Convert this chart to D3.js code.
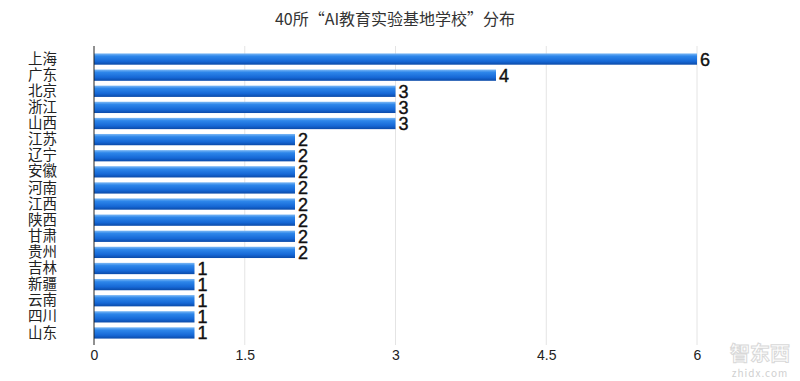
<!DOCTYPE html>
<html>
<head>
<meta charset="utf-8">
<title>40所AI教育实验基地学校分布</title>
<style>
  body { margin: 0; background: #fff; }
  svg { display: block; font-family: "Noto Sans CJK SC", "Liberation Sans", sans-serif; }
</style>
<script src="https://cdn.jsdelivr.net/npm/d3@7"></script>
</head>
<body>
<svg id="chart" width="800" height="381"></svg>
<script>
var provinces = ['上海', '广东', '北京', '浙江', '山西', '江苏', '辽宁', '安徽', '河南', '江西', '陕西', '甘肃', '贵州', '吉林', '新疆', '云南', '四川', '山东'];
var schools = [6, 4, 3, 3, 3, 2, 2, 2, 2, 2, 2, 2, 2, 1, 1, 1, 1, 1];
var xTicks = [0, 1.5, 3, 4.5, 6];

var svg = d3.select('#chart');
// plot area (don't name these top/left: window.top is read-only)
var plotL = 94, plotR = 697, plotT = 51, plotB = 341;

var x = d3.scaleLinear().domain([0, 6]).range([plotL, plotR]);
var y = d3.scaleBand().domain(provinces).range([plotT, plotB]).paddingInner(0.3).paddingOuter(0.15);

// bar gradient: light top edge, dark bottom
var grad = svg.append('defs').append('linearGradient')
  .attr('id', 'barGrad').attr('x1', 0).attr('y1', 0).attr('x2', 0).attr('y2', 1);
grad.append('stop').attr('offset', '0%').attr('stop-color', '#7db9f5');
grad.append('stop').attr('offset', '25%').attr('stop-color', '#2d86ea');
grad.append('stop').attr('offset', '70%').attr('stop-color', '#1668d6');
grad.append('stop').attr('offset', '100%').attr('stop-color', '#0b4aa8');

// title
svg.append('text').attr('x', 395).attr('y', 25).attr('text-anchor', 'middle')
  .attr('font-size', 16).attr('fill', '#333').text('40所“AI教育实验基地学校”分布');

// grid lines
svg.append('g').selectAll('line').data(xTicks.slice(1)).enter().append('line')
  .attr('x1', function(d){ return x(d); }).attr('x2', function(d){ return x(d); })
  .attr('y1', 46).attr('y2', 345)
  .attr('stroke', '#e4e4e4').attr('stroke-width', 1);

// x axis labels
var xAxis = d3.axisBottom(x).tickValues(xTicks).tickSize(0).tickPadding(0)
  .tickFormat(function(d){ return String(d); });
var gx = svg.append('g').attr('transform', 'translate(0,348)').call(xAxis);
gx.select('.domain').remove();
gx.selectAll('text').attr('font-size', 14).attr('fill', '#222').attr('dy', '0.85em')
  .attr('font-family', '"Liberation Sans Narrow", "Liberation Sans", sans-serif');

// bars
svg.append('g').selectAll('rect').data(provinces).enter().append('rect')
  .attr('x', x(0))
  .attr('y', function(d){ return y(d); })
  .attr('width', function(d, i){ return x(schools[i]) - x(0); })
  .attr('height', y.bandwidth())
  .attr('fill', 'url(#barGrad)');

// value labels
svg.append('g').selectAll('text').data(provinces).enter().append('text')
  .attr('x', function(d, i){ return x(schools[i]) + 3; })
  .attr('y', function(d){ return y(d) + y.bandwidth() / 2; })
  .attr('dy', '0.36em')
  .attr('font-size', 18).attr('fill', '#111')
  .attr('stroke', '#111').attr('stroke-width', 0.4)
  .attr('font-family', '"Liberation Sans", sans-serif')
  .text(function(d, i){ return schools[i]; });

// y axis
var yAxis = d3.axisLeft(y).tickSize(0).tickPadding(37);
var gy = svg.append('g').attr('transform', 'translate(' + plotL + ',0)').call(yAxis);
gy.select('.domain').remove();
gy.selectAll('text').attr('font-size', 14.5).attr('fill', '#222')
  .attr('font-family', '"Noto Sans CJK SC", sans-serif');
svg.append('line').attr('x1', plotL).attr('x2', plotL).attr('y1', 46).attr('y2', 345)
  .attr('stroke', '#222').attr('stroke-width', 1);

// watermark
svg.append('text').attr('x', 760).attr('y', 361).attr('text-anchor', 'middle')
  .attr('font-size', 20).attr('font-weight', 'bold').attr('fill', 'none')
  .attr('stroke', '#d8d8d8').attr('stroke-width', 1).text('智东西');
svg.append('text').attr('x', 760).attr('y', 377).attr('text-anchor', 'middle')
  .attr('font-size', 10).attr('fill', '#d0d0d0').attr('letter-spacing', 1).text('zhidx.com');
</script>
</body>
</html>
